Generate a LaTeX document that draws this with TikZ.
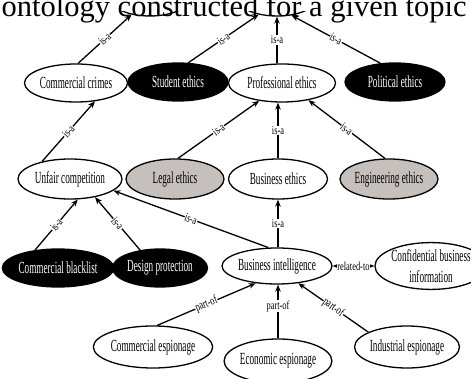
\documentclass[tikz,border=0pt]{standalone}
\usepackage{fontspec}
\setmainfont{Liberation Serif}
\newfontfamily\narrowfont[FakeStretch=0.54]{Liberation Serif}
\newfontfamily\labelfont[FakeStretch=0.7]{Liberation Serif}
\usetikzlibrary{shapes.geometric,arrows.meta}
\definecolor{shadegray}{RGB}{198,192,188}
\tikzset{
  concept/.style={draw, ellipse, fill=white, inner sep=0pt, align=center,
    font=\narrowfont\fontsize{17}{21}\selectfont},
  dark/.style={concept, fill=black, text=white},
  shaded/.style={concept, fill=shadegray},
  wh/.style 2 args={minimum width=#1pt, minimum height=#2pt},
  head/.tip={Stealth[length=7pt,width=5.5pt]},
  rel/.style={-head},
  lbl/.style={fill=white, inner sep=0.5pt, font=\labelfont\fontsize{12}{12}\selectfont},
}

\begin{document}
\begin{tikzpicture}[x=1pt, y=-1pt, line width=1.3pt]
    \useasboundingbox (0,0) rectangle (471,379);
    \clip (0,0) rectangle (471,379);

    % top concepts, mostly hidden under the title
    \node[concept, wh={80}{36}] (tl) at (150,-2) {};
    \node[concept, wh={80}{36}] (tr) at (277,-2) {};

    \node[concept, wh={103}{38}] (cc) at (76,83) {Commercial crimes};
    \node[dark, wh={100}{38}] (se) at (178,82) {Student ethics};
    \node[concept, wh={107}{38}] (pe) at (282,83) {Professional ethics};
    \node[dark, wh={100}{38}] (pol) at (395,82) {Political ethics};

    \node[concept, wh={104}{40}] (uc) at (70,179) {Unfair competition};
    \node[shaded, wh={98}{40}] (le) at (175,179) {Legal ethics};
    \node[concept, wh={99}{40}] (be) at (278,179) {Business ethics};
    \node[shaded, wh={98}{40}] (ee) at (389,179) {Engineering ethics};

    \node[dark, wh={102}{38}] (cb) at (58,268) {Commercial blacklist};
    \node[dark, wh={95}{38}] (dp) at (160,268) {Design protection};
    \node[concept, wh={98}{36}] (bi) at (277,266) {Business intelligence};
    \node[concept, wh={100}{40}] (cbi) at (431,266) {Confidential business\\information};

    \node[concept, wh={100}{42}] (ce) at (153,347) {Commercial espionage};
    \node[concept, wh={100}{44}] (eco) at (278,361) {Economic espionage};
    \node[concept, wh={100}{42}] (ie) at (407,347) {Industrial espionage};

    % relations
    \draw[rel] (cc.84) -- node[lbl, sloped] {is-a} (tl.222);
    \draw[rel] (se.62) -- node[lbl, sloped] {is-a} (tr.222);
    \draw[rel] (pe.north -| tr) -- node[lbl] {is-a} (tr);
    \draw[rel] (pol.128) -- node[lbl, sloped] {is-a} (tr.-50);

    \draw[rel] (uc.148) -- node[lbl, sloped] {is-a} (cc.-44);
    \draw[rel] (le.82) -- node[lbl, sloped] {is-a} (pe.218);
    \draw[rel] (be) -- node[lbl] {is-a} (pe.south -| be);
    \draw[rel] (ee.101) -- node[lbl, sloped] {is-a} (pe.-33);

    \draw[rel] (cb.142) -- node[lbl, sloped] {is-a} (uc.-69);
    \draw[rel] (dp.138) -- node[lbl, sloped] {is-a} (uc.-36);
    \draw[rel] (bi.115) -- node[lbl, sloped] {is-a} (uc.-15);
    \draw[rel] (bi.north -| be) -- node[lbl] {is-a} (be);
    \draw[head-head] (bi) -- node[lbl] {related-to} (cbi);

    \draw[rel] (ce.79) -- node[lbl, sloped] {part-of} (bi.219);
    \draw[rel] (eco) -- node[lbl, pos=0.6] {part-of} (bi.south -| eco);
    \draw[rel] (ie.159) -- node[lbl, sloped] {part-of} (bi.-39);

    % caption strip over the top
    \fill[white] (0,0) rectangle (471,11);
    \node[anchor=base west, inner sep=0pt, font=\fontsize{30.5}{32}\selectfont] (title) at (1,17) {ontology constructed for a given topic};
\end{tikzpicture}
\end{document}
